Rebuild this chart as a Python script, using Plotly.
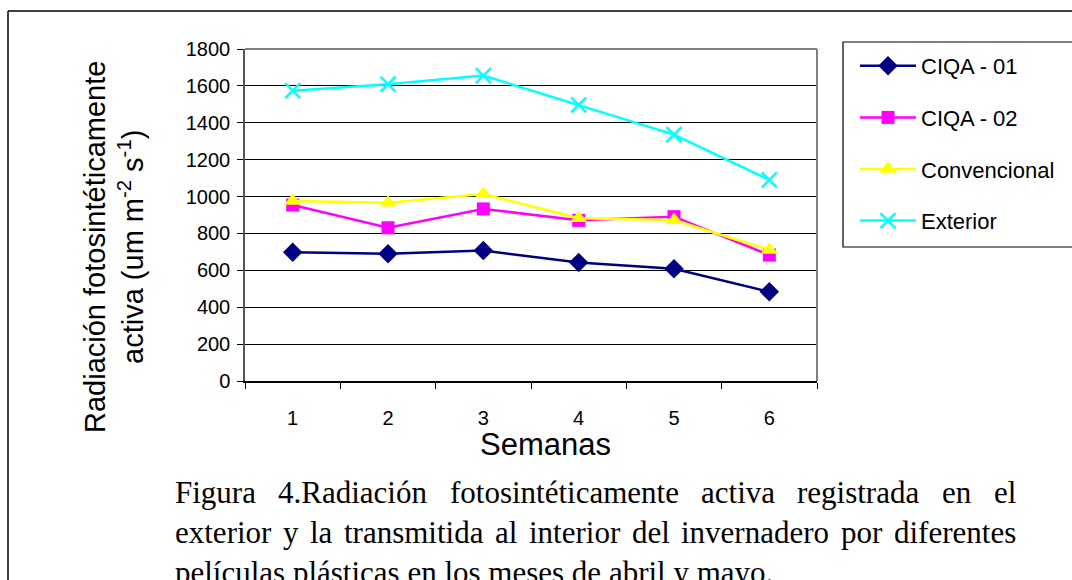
import plotly.graph_objects as go

# ---- data ----
semanas = ["1", "2", "3", "4", "5", "6"]
ciqa01 = [698, 690, 707, 642, 609, 484]
ciqa02 = [954, 831, 933, 871, 891, 683]
convencional = [976, 967, 1014, 882, 873, 710]
exterior = [1574, 1609, 1656, 1497, 1336, 1090]
y_ticks = [0, 200, 400, 600, 800, 1000, 1200, 1400, 1600, 1800]

caption_l1 = "Figura 4.Radiación fotosintéticamente activa registrada en el"
caption_l2 = "exterior y la transmitida al  interior del invernadero por diferentes"
caption_l3 = "películas plásticas en los meses de abril y mayo."

# ---- layout helpers (pixel -> paper) ----
W, H = 1072, 580
L, R, T, B = 245, 817, 49, 381


def px(x):
    return (x - L) / (R - L)


def py(y):
    return (B - y) / (B - T)


SANS = "Liberation Sans, Arial, sans-serif"
SERIF = "Liberation Serif, Times New Roman, serif"

fig = go.Figure()
fig.add_trace(go.Scatter(x=semanas, y=ciqa01, mode="lines+markers", name="CIQA - 01",
                         legendgroup="a",
                         line=dict(color="#000080", width=2.5),
                         marker=dict(symbol="diamond", size=15, color="#000080")))
fig.add_trace(go.Scatter(x=semanas, y=ciqa02, mode="lines+markers", name="CIQA - 02",
                         legendgroup="b",
                         line=dict(color="#FF00FF", width=2.5),
                         marker=dict(symbol="square", size=13, color="#FF00FF")))
fig.add_trace(go.Scatter(x=semanas, y=convencional, mode="lines+markers", name="Convencional",
                         legendgroup="c",
                         line=dict(color="#FFFF00", width=2.5),
                         marker=dict(symbol="triangle-up", size=15, color="#FFFF00")))
fig.add_trace(go.Scatter(x=semanas, y=exterior, mode="lines+markers", name="Exterior",
                         legendgroup="d",
                         line=dict(color="#00FFFF", width=2.5),
                         marker=dict(symbol="x-thin", size=15, color="#00FFFF",
                                     line=dict(color="#00FFFF", width=2.5))))

# Times advance widths (per 1000 em) for justification
TW = {" ": 250, "a": 444, "b": 500, "c": 444, "d": 500, "e": 444, "f": 333, "g": 500,
      "h": 500, "i": 278, "j": 278, "k": 500, "l": 278, "m": 778, "n": 500, "o": 500,
      "p": 500, "q": 500, "r": 333, "s": 389, "t": 278, "u": 500, "v": 500, "w": 722,
      "x": 500, "y": 500, "z": 444, "F": 556, "R": 667, "4": 500, ".": 250, "á": 444,
      "é": 444, "í": 278, "ó": 500}

CAP_SIZE = 31
CAP_X0, CAP_X1 = 173, 1014


def width(word, size):
    return sum(TW.get(ch, 500) for ch in word) / 1000.0 * size


annotations = []


def justify(line, ycenter):
    words = [w for w in line.split(" ") if w]
    total = sum(width(w, CAP_SIZE) for w in words)
    gap = (CAP_X1 - CAP_X0 - total) / (len(words) - 1)
    x = CAP_X0
    for w in words:
        annotations.append(dict(text=w, x=px(x), y=py(ycenter), xref="paper", yref="paper",
                                xanchor="left", yanchor="middle", showarrow=False,
                                font=dict(family=SERIF, size=CAP_SIZE, color="black")))
        x += width(w, CAP_SIZE) + gap


justify(caption_l1, 492)
justify(caption_l2, 532)
annotations.append(dict(text=caption_l3, x=px(CAP_X0), y=py(572), xref="paper", yref="paper",
                        xanchor="left", yanchor="middle", showarrow=False,
                        font=dict(family=SERIF, size=CAP_SIZE, color="black")))

# axis titles
annotations.append(dict(text="Semanas", x=px(545), y=py(444), xref="paper", yref="paper",
                        xanchor="center", yanchor="middle", showarrow=False,
                        font=dict(family=SANS, size=31, color="black")))
annotations.append(dict(text="Radiación fotosintéticamente<br>activa (um m<sup>-2</sup> s<sup>-1</sup>)",
                        x=px(114), y=py(247), xref="paper", yref="paper",
                        xanchor="center", yanchor="middle", showarrow=False, textangle=-90,
                        font=dict(family=SANS, size=29, color="black")))

shapes = [
    # top and right borders of plot area (grey)
    dict(type="line", xref="paper", yref="paper", x0=0, x1=1, y0=1, y1=1,
         line=dict(color="#808080", width=2)),
    dict(type="line", xref="paper", yref="paper", x0=1, x1=1, y0=0, y1=1,
         line=dict(color="#808080", width=2)),
    # outer frame
    dict(type="line", xref="paper", yref="paper", x0=px(8), x1=px(8), y0=py(11), y1=py(600),
         line=dict(color="black", width=1.5)),
    dict(type="line", xref="paper", yref="paper", x0=px(8), x1=px(1090), y0=py(11), y1=py(11),
         line=dict(color="black", width=1.5)),
    # legend box
    dict(type="rect", xref="paper", yref="paper", x0=px(843), x1=px(1090), y0=py(42), y1=py(247),
         line=dict(color="black", width=1.2)),
]

fig.update_layout(
    width=W, height=H,
    margin=dict(l=L, r=W - R, t=T, b=H - B, pad=0),
    paper_bgcolor="white", plot_bgcolor="white",
    showlegend=True,
    legend=dict(x=px(855), y=py(45), xanchor="left", yanchor="top",
                borderwidth=0, bgcolor="rgba(0,0,0,0)",
                font=dict(family=SANS, size=22, color="black"),
                itemwidth=56, tracegroupgap=20, traceorder="grouped"),
    xaxis=dict(type="category", range=[-0.5, 5.5], tickson="boundaries",
               ticks="outside", ticklen=6, tickcolor="black", tickwidth=1,
               showline=True, linecolor="black", linewidth=1.5, showgrid=False,
               ticklabelstandoff=18,
               tickfont=dict(family=SANS, size=20, color="black"), fixedrange=True),
    yaxis=dict(range=[0, 1800], tickvals=y_ticks, ticks="outside", ticklen=6,
               tickcolor="black", tickwidth=1, showline=True, linecolor="#555555",
               linewidth=1.5, showgrid=True, gridcolor="black", gridwidth=1,
               ticklabelstandoff=3,
               zeroline=False, tickfont=dict(family=SANS, size=20, color="black"),
               fixedrange=True),
    annotations=annotations,
    shapes=shapes,
)

fig.write_html("out.html")
